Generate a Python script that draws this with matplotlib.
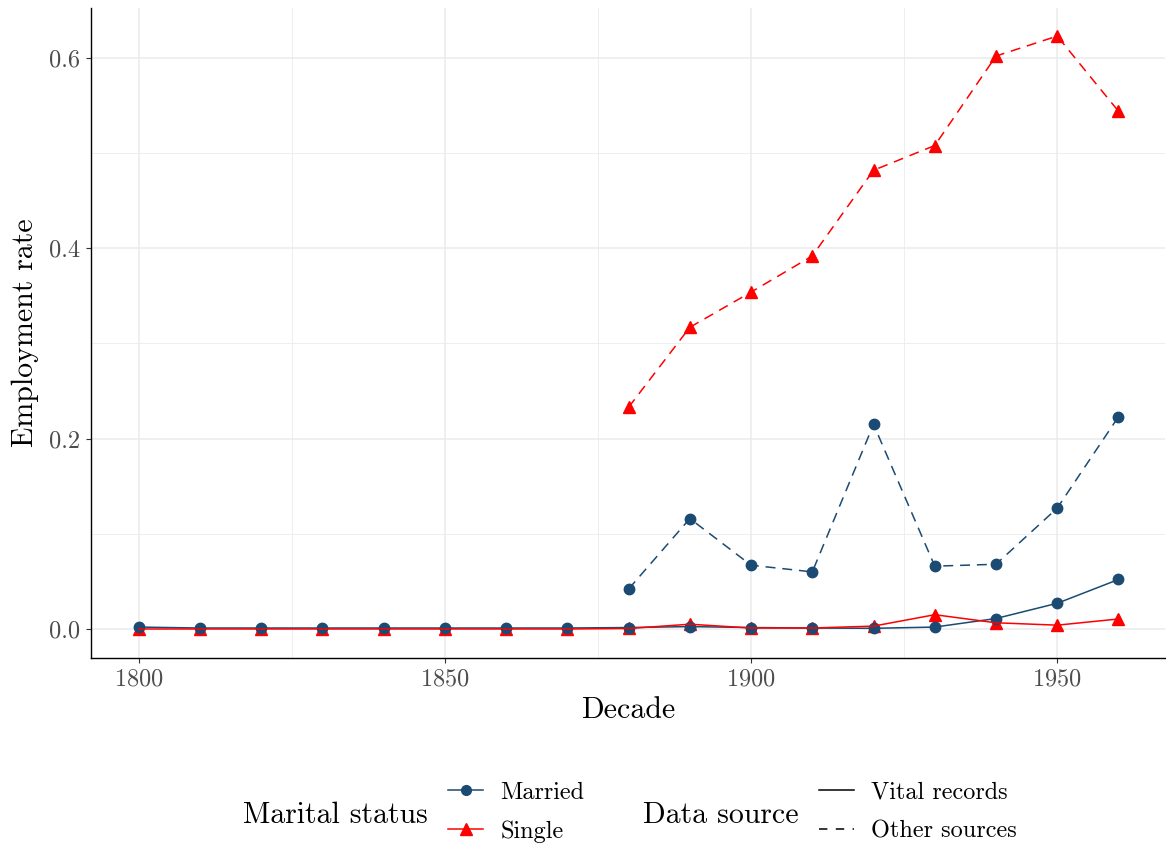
import matplotlib
matplotlib.use("Agg")
import matplotlib.pyplot as plt
from matplotlib.lines import Line2D

plt.rcParams['font.family'] = ['cmr10', 'DejaVu Serif']
plt.rcParams['axes.formatter.use_mathtext'] = True

# data
decades = [1800, 1810, 1820, 1830, 1840, 1850, 1860, 1870, 1880, 1890,
           1900, 1910, 1920, 1930, 1940, 1950, 1960]
married_vital = [0.002, 0.001, 0.001, 0.001, 0.001, 0.001, 0.001, 0.001, 0.0015, 0.0025,
                 0.0015, 0.001, 0.0007, 0.002, 0.011, 0.027, 0.052]
single_vital = [0.0, 0.0, 0.0, 0.0, 0.0, 0.0, 0.0, 0.0, 0.0005, 0.005,
                0.001, 0.001, 0.003, 0.015, 0.0065, 0.004, 0.0105]
other_decades = [1880, 1890, 1900, 1910, 1920, 1930, 1940, 1950, 1960]
married_other = [0.042, 0.116, 0.067, 0.060, 0.215, 0.066, 0.068, 0.127, 0.223]
single_other = [0.233, 0.317, 0.354, 0.392, 0.482, 0.508, 0.602, 0.623, 0.544]

MARRIED = '#1B4A72'
SINGLE = '#FF0000'
DASH = (6.5, 4.5)
TICK_FS = 17.5
TITLE_FS = 21.5

fig = plt.figure(figsize=(11.66, 8.46), dpi=100)
ax = fig.add_axes([91 / 1166, 1 - 658 / 846, 1074 / 1166, 650 / 846])

# points first, lines on top (as in the reference)
ax.plot(decades, single_vital, ls='none', marker='^', ms=8.5, color=SINGLE, zorder=2)
ax.plot(other_decades, single_other, ls='none', marker='^', ms=8.5, color=SINGLE, zorder=2)
ax.plot(decades, married_vital, ls='none', marker='o', ms=7.5, color=MARRIED, zorder=2.1)
ax.plot(other_decades, married_other, ls='none', marker='o', ms=7.5, color=MARRIED, zorder=2.1)

ax.plot(decades, married_vital, color=MARRIED, lw=1.1, zorder=3)
ax.plot(other_decades, married_other, color=MARRIED, lw=1.1, dashes=DASH, zorder=3)
ax.plot(decades, single_vital, color=SINGLE, lw=1.1, zorder=3.1)
ax.plot(other_decades, single_other, color=SINGLE, lw=1.1, dashes=DASH, zorder=3.1)

ax.set_xlim(1792.2, 1967.6)
ax.set_ylim(-0.0305, 0.6525)
ax.set_xticks([1800, 1850, 1900, 1950])
ax.set_xticks([1825, 1875, 1925], minor=True)
ax.set_yticks([0.0, 0.2, 0.4, 0.6])
ax.set_yticklabels(['0.0', '0.2', '0.4', '0.6'])
ax.set_yticks([0.1, 0.3, 0.5], minor=True)

ax.grid(True, which='major', color='#EBEBEB', lw=1.1, zorder=0)
ax.grid(True, which='minor', color='#EBEBEB', lw=0.6, zorder=0)
ax.set_axisbelow(True)
ax.tick_params(which='major', length=3.8, width=0.8, color='#333333',
               labelsize=TICK_FS, labelcolor='#4D4D4D', pad=4)
ax.tick_params(which='minor', length=0)
for s in ['top', 'right']:
    ax.spines[s].set_visible(False)
for s in ['left', 'bottom']:
    ax.spines[s].set_linewidth(1.0)
    ax.spines[s].set_color('black')

ax.set_xlabel('Decade', fontsize=TITLE_FS, labelpad=4)
ax.set_ylabel('Employment rate', fontsize=TITLE_FS, labelpad=7)

# legends at the bottom, titles on the left of the keys
fig.text(243 / 1166, 1 - 815 / 846, 'Marital status', fontsize=TITLE_FS, va='center', ha='left')
fig.text(643 / 1166, 1 - 815 / 846, 'Data source', fontsize=TITLE_FS, va='center', ha='left')

h_marital = [Line2D([], [], color=MARRIED, lw=1.1, marker='o', ms=7),
             Line2D([], [], color=SINGLE, lw=1.1, marker='^', ms=8)]
h_source = [Line2D([], [], color='black', lw=1.1),
            Line2D([], [], color='black', lw=1.1, dashes=(5.5, 5.5))]

leg_kw = dict(loc='center left', frameon=False, fontsize=TICK_FS, handlelength=1.45,
              handletextpad=0.7, labelspacing=0.68, borderpad=0, borderaxespad=0)
fig.legend(h_marital, ['Married', 'Single'],
           bbox_to_anchor=(448 / 1166, 1 - 812 / 846), **leg_kw)
fig.legend(h_source, ['Vital records', 'Other sources'],
           bbox_to_anchor=(819 / 1166, 1 - 812 / 846), **leg_kw)

fig.savefig('out.png', dpi=100)
